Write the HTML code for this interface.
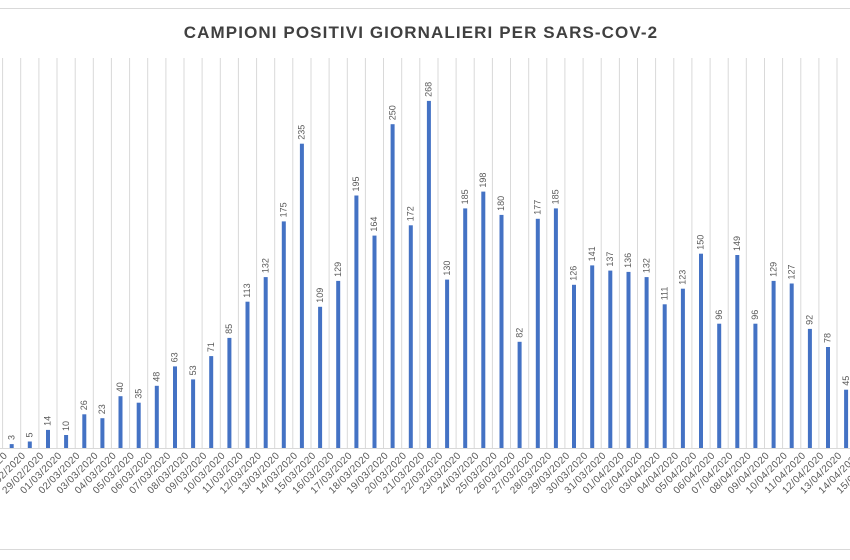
<!DOCTYPE html>
<html><head><meta charset="utf-8"><style>
html,body{margin:0;padding:0;background:#fff;}
svg{display:block;font-family:"Liberation Sans",sans-serif;}
.v{font-size:9px;fill:#595959;dominant-baseline:middle;}
.d{font-size:10px;fill:#595959;text-anchor:end;letter-spacing:0.4px;}
</style></head><body>
<svg width="850" height="560" viewBox="0 0 850 560" xmlns="http://www.w3.org/2000/svg">
<rect width="850" height="560" fill="#fff"/>
<line x1="0" y1="8.5" x2="850" y2="8.5" stroke="#d9d9d9"/>
<line x1="0" y1="549.5" x2="850" y2="549.5" stroke="#d9d9d9"/>
<text x="421" y="38" text-anchor="middle" font-size="17" font-weight="bold" fill="#404040" letter-spacing="1.1">CAMPIONI POSITIVI GIORNALIERI PER SARS-COV-2</text>
<g stroke="#d9d9d9" stroke-width="1">
<path d="M2.6 58V448M20.7 58V448M38.9 58V448M57 58V448M75.2 58V448M93.3 58V448M111.4 58V448M129.6 58V448M147.7 58V448M165.9 58V448M184 58V448M202.1 58V448M220.3 58V448M238.4 58V448M256.6 58V448M274.7 58V448M292.8 58V448M311 58V448M329.1 58V448M347.3 58V448M365.4 58V448M383.5 58V448M401.7 58V448M419.8 58V448M438 58V448M456.1 58V448M474.2 58V448M492.4 58V448M510.5 58V448M528.7 58V448M546.8 58V448M564.9 58V448M583.1 58V448M601.2 58V448M619.4 58V448M637.5 58V448M655.6 58V448M673.8 58V448M691.9 58V448M710.1 58V448M728.2 58V448M746.3 58V448M764.5 58V448M782.6 58V448M800.8 58V448M818.9 58V448M837 58V448"/>
<line x1="0" y1="448.5" x2="850" y2="448.5"/>
</g>
<g fill="#4472c4">
<rect x="9.7" y="444.1" width="4" height="3.9"/>
<rect x="27.8" y="441.5" width="4" height="6.5"/>
<rect x="46" y="429.9" width="4" height="18.1"/>
<rect x="64.1" y="435" width="4" height="13"/>
<rect x="82.3" y="414.3" width="4" height="33.7"/>
<rect x="100.4" y="418.2" width="4" height="29.8"/>
<rect x="118.5" y="396.2" width="4" height="51.8"/>
<rect x="136.7" y="402.7" width="4" height="45.3"/>
<rect x="154.8" y="385.8" width="4" height="62.2"/>
<rect x="173" y="366.4" width="4" height="81.6"/>
<rect x="191.1" y="379.4" width="4" height="68.6"/>
<rect x="209.2" y="356.1" width="4" height="91.9"/>
<rect x="227.4" y="337.9" width="4" height="110.1"/>
<rect x="245.5" y="301.7" width="4" height="146.3"/>
<rect x="263.7" y="277.1" width="4" height="170.9"/>
<rect x="281.8" y="221.4" width="4" height="226.6"/>
<rect x="299.9" y="143.7" width="4" height="304.3"/>
<rect x="318.1" y="306.8" width="4" height="141.2"/>
<rect x="336.2" y="280.9" width="4" height="167.1"/>
<rect x="354.4" y="195.5" width="4" height="252.5"/>
<rect x="372.5" y="235.6" width="4" height="212.4"/>
<rect x="390.6" y="124.2" width="4" height="323.8"/>
<rect x="408.8" y="225.3" width="4" height="222.7"/>
<rect x="426.9" y="100.9" width="4" height="347.1"/>
<rect x="445.1" y="279.6" width="4" height="168.4"/>
<rect x="463.2" y="208.4" width="4" height="239.6"/>
<rect x="481.3" y="191.6" width="4" height="256.4"/>
<rect x="499.5" y="214.9" width="4" height="233.1"/>
<rect x="517.6" y="341.8" width="4" height="106.2"/>
<rect x="535.8" y="218.8" width="4" height="229.2"/>
<rect x="553.9" y="208.4" width="4" height="239.6"/>
<rect x="572" y="284.8" width="4" height="163.2"/>
<rect x="590.2" y="265.4" width="4" height="182.6"/>
<rect x="608.3" y="270.6" width="4" height="177.4"/>
<rect x="626.5" y="271.9" width="4" height="176.1"/>
<rect x="644.6" y="277.1" width="4" height="170.9"/>
<rect x="662.7" y="304.3" width="4" height="143.7"/>
<rect x="680.9" y="288.7" width="4" height="159.3"/>
<rect x="699" y="253.7" width="4" height="194.3"/>
<rect x="717.2" y="323.7" width="4" height="124.3"/>
<rect x="735.3" y="255" width="4" height="193"/>
<rect x="753.4" y="323.7" width="4" height="124.3"/>
<rect x="771.6" y="280.9" width="4" height="167.1"/>
<rect x="789.7" y="283.5" width="4" height="164.5"/>
<rect x="807.9" y="328.9" width="4" height="119.1"/>
<rect x="826" y="347" width="4" height="101"/>
<rect x="844.1" y="389.7" width="4" height="58.3"/>
</g>
<g class="v">
<text class="v" transform="translate(12,440) rotate(-90)">3</text>
<text class="v" transform="translate(30.1,437.5) rotate(-90)">5</text>
<text class="v" transform="translate(48.3,425.9) rotate(-90)">14</text>
<text class="v" transform="translate(66.4,431) rotate(-90)">10</text>
<text class="v" transform="translate(84.6,410.3) rotate(-90)">26</text>
<text class="v" transform="translate(102.7,414.2) rotate(-90)">23</text>
<text class="v" transform="translate(120.8,392.2) rotate(-90)">40</text>
<text class="v" transform="translate(139,398.7) rotate(-90)">35</text>
<text class="v" transform="translate(157.1,381.8) rotate(-90)">48</text>
<text class="v" transform="translate(175.3,362.4) rotate(-90)">63</text>
<text class="v" transform="translate(193.4,375.4) rotate(-90)">53</text>
<text class="v" transform="translate(211.5,352.1) rotate(-90)">71</text>
<text class="v" transform="translate(229.7,333.9) rotate(-90)">85</text>
<text class="v" transform="translate(247.8,297.7) rotate(-90)">113</text>
<text class="v" transform="translate(266,273.1) rotate(-90)">132</text>
<text class="v" transform="translate(284.1,217.4) rotate(-90)">175</text>
<text class="v" transform="translate(302.2,139.7) rotate(-90)">235</text>
<text class="v" transform="translate(320.4,302.8) rotate(-90)">109</text>
<text class="v" transform="translate(338.5,276.9) rotate(-90)">129</text>
<text class="v" transform="translate(356.7,191.5) rotate(-90)">195</text>
<text class="v" transform="translate(374.8,231.6) rotate(-90)">164</text>
<text class="v" transform="translate(392.9,120.2) rotate(-90)">250</text>
<text class="v" transform="translate(411.1,221.3) rotate(-90)">172</text>
<text class="v" transform="translate(429.2,96.9) rotate(-90)">268</text>
<text class="v" transform="translate(447.4,275.6) rotate(-90)">130</text>
<text class="v" transform="translate(465.5,204.4) rotate(-90)">185</text>
<text class="v" transform="translate(483.6,187.6) rotate(-90)">198</text>
<text class="v" transform="translate(501.8,210.9) rotate(-90)">180</text>
<text class="v" transform="translate(519.9,337.8) rotate(-90)">82</text>
<text class="v" transform="translate(538.1,214.8) rotate(-90)">177</text>
<text class="v" transform="translate(556.2,204.4) rotate(-90)">185</text>
<text class="v" transform="translate(574.3,280.8) rotate(-90)">126</text>
<text class="v" transform="translate(592.5,261.4) rotate(-90)">141</text>
<text class="v" transform="translate(610.6,266.6) rotate(-90)">137</text>
<text class="v" transform="translate(628.8,267.9) rotate(-90)">136</text>
<text class="v" transform="translate(646.9,273.1) rotate(-90)">132</text>
<text class="v" transform="translate(665,300.3) rotate(-90)">111</text>
<text class="v" transform="translate(683.2,284.7) rotate(-90)">123</text>
<text class="v" transform="translate(701.3,249.7) rotate(-90)">150</text>
<text class="v" transform="translate(719.5,319.7) rotate(-90)">96</text>
<text class="v" transform="translate(737.6,251) rotate(-90)">149</text>
<text class="v" transform="translate(755.7,319.7) rotate(-90)">96</text>
<text class="v" transform="translate(773.9,276.9) rotate(-90)">129</text>
<text class="v" transform="translate(792,279.5) rotate(-90)">127</text>
<text class="v" transform="translate(810.2,324.9) rotate(-90)">92</text>
<text class="v" transform="translate(828.3,343) rotate(-90)">78</text>
<text class="v" transform="translate(846.4,385.7) rotate(-90)">45</text>
</g>
<g>
<text class="d" transform="translate(8,456) rotate(-45)">27/02/2020</text>
<text class="d" transform="translate(26.1,456) rotate(-45)">28/02/2020</text>
<text class="d" transform="translate(44.3,456) rotate(-45)">29/02/2020</text>
<text class="d" transform="translate(62.4,456) rotate(-45)">01/03/2020</text>
<text class="d" transform="translate(80.6,456) rotate(-45)">02/03/2020</text>
<text class="d" transform="translate(98.7,456) rotate(-45)">03/03/2020</text>
<text class="d" transform="translate(116.8,456) rotate(-45)">04/03/2020</text>
<text class="d" transform="translate(135,456) rotate(-45)">05/03/2020</text>
<text class="d" transform="translate(153.1,456) rotate(-45)">06/03/2020</text>
<text class="d" transform="translate(171.3,456) rotate(-45)">07/03/2020</text>
<text class="d" transform="translate(189.4,456) rotate(-45)">08/03/2020</text>
<text class="d" transform="translate(207.5,456) rotate(-45)">09/03/2020</text>
<text class="d" transform="translate(225.7,456) rotate(-45)">10/03/2020</text>
<text class="d" transform="translate(243.8,456) rotate(-45)">11/03/2020</text>
<text class="d" transform="translate(262,456) rotate(-45)">12/03/2020</text>
<text class="d" transform="translate(280.1,456) rotate(-45)">13/03/2020</text>
<text class="d" transform="translate(298.2,456) rotate(-45)">14/03/2020</text>
<text class="d" transform="translate(316.4,456) rotate(-45)">15/03/2020</text>
<text class="d" transform="translate(334.5,456) rotate(-45)">16/03/2020</text>
<text class="d" transform="translate(352.7,456) rotate(-45)">17/03/2020</text>
<text class="d" transform="translate(370.8,456) rotate(-45)">18/03/2020</text>
<text class="d" transform="translate(388.9,456) rotate(-45)">19/03/2020</text>
<text class="d" transform="translate(407.1,456) rotate(-45)">20/03/2020</text>
<text class="d" transform="translate(425.2,456) rotate(-45)">21/03/2020</text>
<text class="d" transform="translate(443.4,456) rotate(-45)">22/03/2020</text>
<text class="d" transform="translate(461.5,456) rotate(-45)">23/03/2020</text>
<text class="d" transform="translate(479.6,456) rotate(-45)">24/03/2020</text>
<text class="d" transform="translate(497.8,456) rotate(-45)">25/03/2020</text>
<text class="d" transform="translate(515.9,456) rotate(-45)">26/03/2020</text>
<text class="d" transform="translate(534.1,456) rotate(-45)">27/03/2020</text>
<text class="d" transform="translate(552.2,456) rotate(-45)">28/03/2020</text>
<text class="d" transform="translate(570.3,456) rotate(-45)">29/03/2020</text>
<text class="d" transform="translate(588.5,456) rotate(-45)">30/03/2020</text>
<text class="d" transform="translate(606.6,456) rotate(-45)">31/03/2020</text>
<text class="d" transform="translate(624.8,456) rotate(-45)">01/04/2020</text>
<text class="d" transform="translate(642.9,456) rotate(-45)">02/04/2020</text>
<text class="d" transform="translate(661,456) rotate(-45)">03/04/2020</text>
<text class="d" transform="translate(679.2,456) rotate(-45)">04/04/2020</text>
<text class="d" transform="translate(697.3,456) rotate(-45)">05/04/2020</text>
<text class="d" transform="translate(715.5,456) rotate(-45)">06/04/2020</text>
<text class="d" transform="translate(733.6,456) rotate(-45)">07/04/2020</text>
<text class="d" transform="translate(751.7,456) rotate(-45)">08/04/2020</text>
<text class="d" transform="translate(769.9,456) rotate(-45)">09/04/2020</text>
<text class="d" transform="translate(788,456) rotate(-45)">10/04/2020</text>
<text class="d" transform="translate(806.2,456) rotate(-45)">11/04/2020</text>
<text class="d" transform="translate(824.3,456) rotate(-45)">12/04/2020</text>
<text class="d" transform="translate(842.4,456) rotate(-45)">13/04/2020</text>
<text class="d" transform="translate(860.6,456) rotate(-45)">14/04/2020</text>
<text class="d" transform="translate(878.7,456) rotate(-45)">15/04/2020</text>
</g>
</svg>
</body></html>
